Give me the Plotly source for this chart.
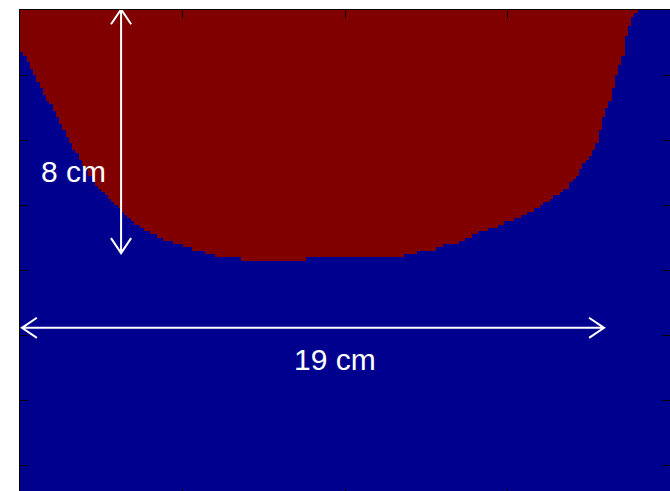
import numpy as np
import plotly.graph_objects as go

# Segmentation mask: 200 columns x 150 rows. For each column, the number of
# rows (from the top) that belong to the upper region.
n_cols = 200
n_rows = 150
upper_depth = [
    13, 14, 16, 18, 20, 22, 24, 26, 28, 29, 31, 33, 35, 37, 39, 41, 43, 44, 46, 48,
    49, 51, 52, 54, 55, 56, 57, 58, 59, 60, 61, 62, 63, 64, 65, 66, 66, 67, 68, 68,
    69, 69, 70, 70, 71, 71, 71, 72, 72, 72, 73, 73, 73, 74, 74, 74, 74, 75, 75, 75,
    76, 76, 76, 76, 76, 76, 76, 76, 77, 77, 77, 77, 77, 77, 77, 77, 77, 77, 77, 77,
    77, 77, 77, 77, 77, 77, 77, 77, 76, 76, 76, 76, 76, 76, 76, 76, 76, 76, 76, 76,
    76, 76, 76, 76, 76, 76, 76, 76, 76, 76, 76, 76, 76, 76, 76, 76, 76, 76, 75, 75,
    75, 75, 74, 74, 74, 74, 74, 74, 73, 73, 72, 72, 72, 72, 72, 71, 71, 70, 70, 69,
    69, 68, 68, 68, 67, 67, 67, 66, 66, 65, 65, 65, 64, 64, 63, 63, 62, 62, 61, 61,
    60, 59, 59, 58, 57, 57, 56, 55, 55, 53, 52, 51, 49, 47, 46, 45, 43, 41, 37, 33,
    30, 28, 24, 20, 17, 14, 8, 5, 2, 1, 0, 0, 0, 0, 0, 0, 0, 0, 0, 0,
]

# Measurement labels
depth_label = "8 cm"
width_label = "19 cm"

x_ticks = [0, 50, 100, 150, 200]
y_ticks = [0, 20, 40, 60, 80, 100, 120, 140]
x_range = [0, 200]
y_range = [148, 0]

rows = np.arange(n_rows)[:, None]
mask = (rows < np.array(upper_depth)[None, :]).astype(int)

fig = go.Figure()
fig.add_trace(go.Heatmap(
    z=mask,
    x=np.arange(n_cols) + 0.5,
    y=np.arange(n_rows) + 0.5,
    zmin=0, zmax=1,
    colorscale=[[0, "#00008F"], [1, "#800000"]],
    showscale=False,
    hoverinfo="skip",
))
# Empty trace so the top / right tick axes are drawn
fig.add_trace(go.Scatter(x=[None], y=[None], xaxis="x2", yaxis="y2",
                         showlegend=False, hoverinfo="skip"))

# Measurement arrows (open "V" heads)
def arrow_path(x0, y0, x1, y1, head_len=4.6, head_half=3.1):
    d = np.array([x1 - x0, y1 - y0], float)
    d /= np.hypot(*d)
    n = np.array([-d[1], d[0]])
    parts = [f"M{x0},{y0} L{x1},{y1}"]
    for tip, s in (((x0, y0), 1), ((x1, y1), -1)):
        tip = np.array(tip)
        a = tip + s * d * head_len + n * head_half
        b = tip + s * d * head_len - n * head_half
        parts.append(f"M{a[0]:.3f},{a[1]:.3f} L{tip[0]:.3f},{tip[1]:.3f} L{b[0]:.3f},{b[1]:.3f}")
    return " ".join(parts)

arrow_line = dict(color="white", width=2)
fig.add_shape(type="path", xref="x", yref="y",
              path=arrow_path(31.1, -0.2, 31.1, 74.8), line=arrow_line)
fig.add_shape(type="path", xref="x", yref="y",
              path=arrow_path(0.6, 97.8, 179.7, 97.8), line=arrow_line)

text_font = dict(family="Liberation Sans, Arial, sans-serif", size=30, color="white")
fig.add_annotation(x=16.5, y=49.8, xref="x", yref="y", text=depth_label,
                   showarrow=False, font=text_font, xanchor="center", yanchor="middle")
fig.add_annotation(x=96.9, y=107.5, xref="x", yref="y", text=width_label,
                   showarrow=False, font=text_font, xanchor="center", yanchor="middle")

tick_style = dict(showgrid=False, zeroline=False, showticklabels=False,
                  ticks="inside", tickwidth=1, tickcolor="black")
fig.update_layout(
    width=670, height=491,
    margin=dict(l=20, r=0, t=10, b=0),
    paper_bgcolor="white", plot_bgcolor="white",
    xaxis=dict(range=x_range, tickvals=x_ticks, ticklen=2, showline=False, **tick_style),
    yaxis=dict(range=y_range, tickvals=y_ticks, ticklen=8, showline=True,
               linecolor="black", linewidth=1, **tick_style),
    xaxis2=dict(range=x_range, tickvals=x_ticks, ticklen=8, side="top",
                overlaying="x", anchor="y", showline=True,
                linecolor="black", linewidth=1, **tick_style),
    yaxis2=dict(range=y_range, tickvals=y_ticks, ticklen=8, side="right",
                overlaying="y", anchor="x", showline=False, **tick_style),
    showlegend=False,
)

fig.write_html("out.html")
